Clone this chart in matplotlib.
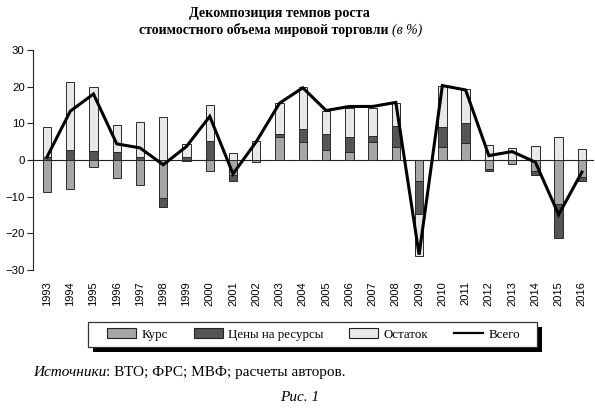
import numpy as np
import matplotlib
matplotlib.use("Agg")
import matplotlib.pyplot as plt
from matplotlib.patches import Patch, Rectangle
from matplotlib.lines import Line2D

years = [str(y) for y in range(1993, 2017)]

kurs = [-8.6, -7.9, -2.0, -4.9, -6.7, -10.4, -0.3, -2.9, -4.0, -0.5, 6.3, 4.8,
        2.8, 2.1, 4.8, 3.5, -5.6, 3.5, 4.6, -2.5, -1.1, -2.9, -11.9, -4.5]
prices = [0.8, 2.8, 2.4, 2.2, 0.7, -2.5, 0.9, 5.3, -1.8, 0.0, 0.8, 3.7,
          4.4, 4.2, 1.8, 5.7, -9.1, 5.5, 5.5, -0.4, 0.0, -1.1, -9.4, -1.3]
rest = [8.2, 18.6, 17.4, 7.4, 9.8, 11.7, 3.5, 9.6, 1.9, 5.3, 8.4, 11.3,
        6.2, 8.0, 7.7, 6.3, -11.5, 11.3, 9.3, 4.0, 3.4, 3.7, 6.4, 3.1]
total = [0.8, 13.3, 18.0, 4.4, 3.3, -1.3, 3.7, 11.9, -3.8, 5.0, 15.5, 19.7,
         13.5, 14.6, 14.6, 15.7, -25.8, 20.3, 19.1, 1.2, 2.3, -0.6, -14.9, -3.3]

series = [("Курс", kurs, "#a6a6a6"),
          ("Цены на ресурсы", prices, "#555555"),
          ("Остаток", rest, "#e8e8e8")]

serif = ["Liberation Serif", "DejaVu Serif"]
sans = ["Liberation Sans", "DejaVu Sans"]

W, H = 595, 409
fig = plt.figure(figsize=(W / 100, H / 100), dpi=100)
ax = fig.add_axes([33 / W, 1 - 270 / H, 561 / W, 220 / H])

x = np.arange(len(years))
pos_bottom = np.zeros(len(years))
neg_bottom = np.zeros(len(years))
for name, vals, col in series:
    v = np.array(vals)
    bottom = np.where(v >= 0, pos_bottom, neg_bottom)
    ax.bar(x, v, width=0.36, bottom=bottom, color=col,
           edgecolor="#2a2a2a", linewidth=0.7, zorder=2)
    pos_bottom += np.where(v >= 0, v, 0)
    neg_bottom += np.where(v < 0, v, 0)

ax.axhline(0, color="#222222", linewidth=0.8, zorder=1)
ax.plot(x, total, color="black", linewidth=2.2, zorder=3,
        solid_joinstyle="miter")

ax.set_xlim(-0.6, 23.52)
ax.set_ylim(-30, 30)
ax.set_yticks(range(-30, 31, 10))
ax.set_xticks(x)
ax.set_xticklabels(years, rotation=90, fontfamily=sans, fontsize=8)
for lab in ax.get_yticklabels():
    lab.set_fontfamily(sans)
    lab.set_fontsize(8.2)
ax.tick_params(axis="x", length=0, pad=8)
ax.tick_params(axis="y", length=4, width=0.8, color="#222222", pad=2)
for s in ["top", "right", "bottom"]:
    ax.spines[s].set_visible(False)
ax.spines["left"].set_color("#222222")
ax.spines["left"].set_linewidth(0.8)

# legend box with a hard black shadow, drawn by hand
box_x0, box_y0, box_x1, box_y1 = 88, 322, 537, 347
fig.add_artist(Rectangle(((box_x0 + 5) / W, 1 - (box_y1 + 5) / H),
                         (box_x1 - box_x0) / W, (box_y1 - box_y0) / H,
                         transform=fig.transFigure, facecolor="black",
                         edgecolor="none", zorder=1))
fig.add_artist(Rectangle((box_x0 / W, 1 - box_y1 / H),
                         (box_x1 - box_x0) / W, (box_y1 - box_y0) / H,
                         transform=fig.transFigure, facecolor="white",
                         edgecolor="#333333", linewidth=0.9, zorder=2))

handles = [Patch(facecolor=c, edgecolor="#222222", linewidth=0.8, label=n)
           for n, _, c in series]
handles.append(Line2D([], [], color="black", linewidth=1.6, label="Всего"))
leg = fig.legend(handles=handles, ncol=4, loc="center",
                 bbox_to_anchor=(313.5 / W, 1 - 334.5 / H),
                 prop={"family": serif, "size": 9.3}, frameon=False,
                 handlelength=2.25, handletextpad=0.4, columnspacing=2.0,
                 borderpad=0)
leg.set_zorder(3)


def text_run(parts, x0, y0, ha="left", size=10):
    fig.canvas.draw()
    r = fig.canvas.get_renderer()
    objs = []
    for txt, kw in parts:
        objs.append(fig.text(0, y0, txt, fontfamily=serif, fontsize=size,
                             va="baseline", **kw))
    widths = [o.get_window_extent(r).width / fig.bbox.width for o in objs]
    start = x0 - sum(widths) / 2 if ha == "center" else x0
    for o, w in zip(objs, widths):
        o.set_x(start)
        start += w


fig.text(279 / W, 1 - 17 / H, "Декомпозиция темпов роста", ha="center",
         va="baseline", fontfamily=serif, fontsize=10.2, fontweight="bold")
text_run([("стоимостного объема мировой торговли ", {"fontweight": "bold"}),
          ("(в %)", {"style": "italic"})],
         281 / W, 1 - 34 / H, ha="center", size=10)
text_run([("Источники", {"style": "italic"}),
          (": ВТО; ФРС; МВФ; расчеты авторов.", {})],
         33 / W, 1 - 376 / H, size=11)
fig.text(300 / W, 1 - 401 / H, "Рис. 1", ha="center", va="baseline",
         fontfamily=serif, fontsize=11, style="italic")

fig.savefig("out.png", dpi=100)
